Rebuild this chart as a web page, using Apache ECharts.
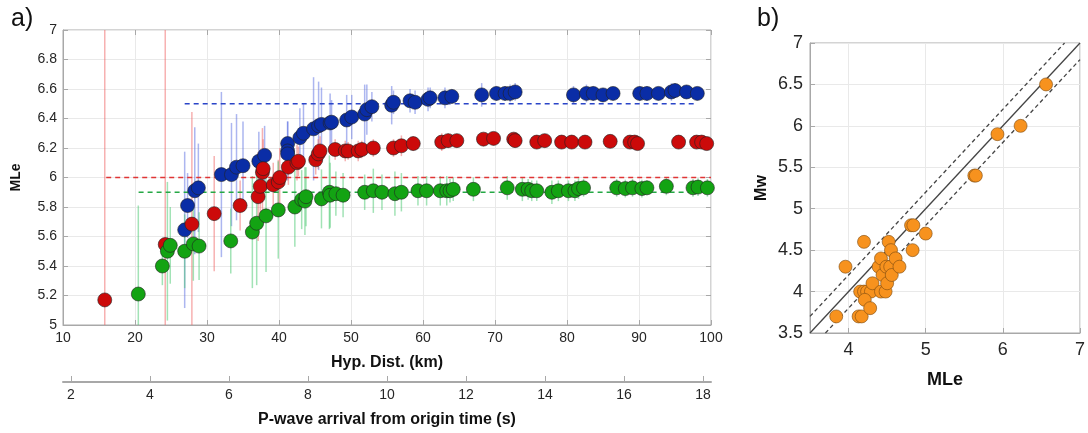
<!DOCTYPE html>
<html>
<head>
<meta charset="utf-8">
<script src="https://cdn.jsdelivr.net/npm/echarts@6/dist/echarts.min.js"></script>
<style>
html,body{margin:0;padding:0;background:#fff;}
#chart{width:1088px;height:433px;}
</style>
</head>
<body>
<div id="chart"></div>
<script>
// ---- Panel a) data: hypocentral distance (km), MLe, half error ----
const blueX = [26.9,27.3,28.3,28.8,32.0,33.4,34.1,35.0,37.2,38.0,41.2,41.2,41.2,42.9,43.4,44.8,45.5,45.9,47.1,47.3,49.4,50.1,51.9,52.2,52.9,55.65,55.9,58.2,58.9,60.7,61.0,63.05,64.0,68.15,70.2,71.4,72.1,72.8,80.9,82.7,83.65,85.0,86.4,90.1,91.1,92.7,94.5,95.0,96.6,98.1];
const blueY = [5.645,5.81,5.91,5.93,6.02,6.02,6.07,6.08,6.11,6.15,6.23,6.18,6.16,6.27,6.30,6.33,6.35,6.36,6.37,6.375,6.39,6.41,6.43,6.46,6.48,6.49,6.51,6.52,6.51,6.53,6.54,6.54,6.55,6.56,6.57,6.57,6.57,6.58,6.56,6.57,6.57,6.56,6.57,6.57,6.57,6.57,6.58,6.59,6.58,6.57];
const blueErr = [0.53,0.22,0.43,0.3,0.56,0.35,0.36,0.3,0.2,0.2,0.15,0.2,0.1,0.2,0.2,0.35,0.3,0.25,0.2,0.15,0.17,0.15,0.2,0.17,0.1,0.13,0.08,0.08,0.08,0.08,0.07,0.07,0.05,0.08,0.05,0.05,0.06,0.06,0.06,0.06,0.05,0.04,0.04,0.05,0.05,0.04,0.06,0.05,0.04,0.04];

const redX = [15.8,24.2,27.9,31.0,34.6,37.1,37.4,37.7,37.8,39.2,39.9,40.1,41.3,42.5,42.7,45.1,45.45,45.7,47.8,49.2,49.6,51.0,51.5,53.1,55.9,57.0,58.65,62.6,63.5,64.7,68.4,69.8,72.6,72.8,75.8,76.9,79.25,80.65,82.5,86.0,88.75,89.4,89.8,95.5,98.0,98.7,99.4];
const redY = [5.17,5.546,5.684,5.755,5.81,5.87,5.94,6.035,6.06,5.95,5.97,6.0,6.07,6.10,6.11,6.12,6.16,6.18,6.19,6.18,6.18,6.18,6.19,6.20,6.20,6.215,6.23,6.24,6.25,6.25,6.26,6.265,6.26,6.25,6.24,6.25,6.24,6.24,6.24,6.245,6.24,6.24,6.23,6.24,6.24,6.24,6.23];
const redErr = [2,2,0.76,0.39,0.17,0.3,0.25,0.3,0.2,0.15,0.15,0.2,0.12,0.12,0.1,0.1,0.1,0.1,0.07,0.07,0.06,0.07,0.06,0.06,0.06,0.07,0.05,0.06,0.05,0.04,0.04,0.04,0.04,0.03,0.04,0.04,0.04,0.03,0.03,0.03,0.03,0.03,0.03,0.03,0.03,0.03,0.03];

const greenX = [20.46,23.8,24.5,24.9,26.9,28.1,28.9,33.3,36.3,36.9,38.2,39.9,42.2,43.15,43.6,43.75,45.9,47.0,47.1,47.9,48.9,51.9,53.1,54.3,56.1,57.0,59.3,60.5,62.4,63.3,63.75,64.2,67.0,71.7,73.8,74.6,75.1,75.8,77.9,78.8,80.2,81.1,81.6,82.3,86.9,88.1,89.1,90.4,91.1,93.8,97.5,98.2,99.5];
const greenY = [5.21,5.40,5.50,5.54,5.50,5.55,5.535,5.57,5.63,5.69,5.74,5.78,5.80,5.85,5.84,5.87,5.855,5.90,5.88,5.89,5.88,5.90,5.91,5.90,5.89,5.90,5.91,5.91,5.91,5.91,5.91,5.92,5.92,5.93,5.92,5.92,5.91,5.91,5.90,5.91,5.91,5.91,5.925,5.93,5.93,5.925,5.93,5.925,5.93,5.94,5.93,5.935,5.93];
const greenErr = [0.6,0.13,0.47,0.26,0.25,0.25,0.23,0.22,0.38,0.42,0.38,0.33,0.27,0.2,0.23,0.2,0.2,0.25,0.22,0.15,0.15,0.12,0.15,0.12,0.15,0.13,0.1,0.1,0.1,0.1,0.08,0.08,0.08,0.08,0.08,0.07,0.07,0.07,0.08,0.07,0.07,0.07,0.07,0.06,0.06,0.06,0.06,0.06,0.05,0.06,0.06,0.06,0.06];

// reference magnitudes (dashed), start/end distance
const blueRef = [6.5, 26.9, 97.8];
const redRef = [6.0, 16.0, 100];
const greenRef = [5.9, 20.5, 100];

// axes
const distTicks = [10,20,30,40,50,60,70,80,90,100];
const timeTicks = [2,4,6,8,10,12,14,16,18];
const timeRange = [1.8, 18.2];

// ---- Panel b) data ----
const mleB = [3.84,3.96,4.20,4.13,4.17,4.15,4.20,4.24,4.29,4.21,4.28,4.31,4.39,4.42,4.44,4.42,4.48,4.49,4.50,4.52,4.55,4.54,4.56,4.61,4.66,4.81,4.84,4.83,5.00,5.63,5.65,5.93,6.23,6.56];
const mwB = [3.7,4.3,4.6,3.7,3.7,4.0,4.0,4.0,4.0,3.9,3.8,4.1,4.3,4.4,4.2,4.0,4.0,4.3,4.1,4.6,4.5,4.3,4.2,4.4,4.3,4.8,4.8,4.5,4.7,5.4,5.4,5.9,6.0,6.5];
const xTicksB = [4,5,6,7];
const bandOffset = 0.2;

// ---- build ----
const FONT = 'Liberation Sans, Arial, Helvetica, sans-serif';
const zip3 = (a,b,c) => a.map((v,i)=>[v,b[i],c[i]]);
const zip2 = (a,b) => a.map((v,i)=>[v,b[i]]);

function errSeries(x,y,e,color){
  return {
    type:'custom', xAxisIndex:0, yAxisIndex:0, z:2,
    data: zip3(x,y,e),
    renderItem: function(params, api){
      const xv = api.value(0), yv = api.value(1), ev = api.value(2);
      const lo = Math.max(5, yv-ev), hi = Math.min(7, yv+ev);
      const p1 = api.coord([xv, lo]), p2 = api.coord([xv, hi]);
      return {type:'line', shape:{x1:p1[0],y1:p1[1],x2:p2[0],y2:p2[1]}, style:{stroke:color, lineWidth:1.5}};
    }
  };
}
function refSeries(ref,color){
  return {type:'line', xAxisIndex:0, yAxisIndex:0, z:3, symbol:'none', silent:true,
    data:[[ref[1],ref[0]],[ref[2],ref[0]]],
    lineStyle:{color:color, width:1.5, type:[5,4]}};
}
function dotSeries(x,y,color){
  return {type:'scatter', xAxisIndex:0, yAxisIndex:0, z:4, symbolSize:14,
    data: zip2(x,y),
    itemStyle:{color:color, borderColor:'#222', borderWidth:0.6, opacity:1}};
}

const axisGray = '#a8a8a8';
const gridGray = '#e9e9e9';
const labelCol = '#262626';

const chart = echarts.init(document.getElementById('chart'), null, {renderer:'canvas'});
chart.setOption({
  backgroundColor:'#fff',
  animation:false,
  title:[
    {text:'a)', left:6, top:2, textStyle:{fontFamily:FONT, fontSize:25, fontWeight:'normal', color:'#111'}},
    {text:'b)', left:752, top:2, textStyle:{fontFamily:FONT, fontSize:25, fontWeight:'normal', color:'#111'}}
  ],
  grid:[
    {left:63, top:30, width:648, height:304, show:true, borderColor:axisGray, borderWidth:1},
    {left:810, top:43, width:277, height:290, show:true, borderColor:axisGray, borderWidth:1}
  ],
  xAxis:[
    {gridIndex:0, type:'value', min:10, max:100, interval:10, position:'bottom',
      name:'Hyp. Dist. (km)', nameLocation:'middle', nameGap:30,
      nameTextStyle:{fontFamily:FONT, fontSize:16, fontWeight:'bold', color:'#111'},
      axisLine:{show:true, lineStyle:{color:axisGray}},
      axisTick:{show:true, inside:true, length:5, lineStyle:{color:axisGray}},
      axisLabel:{fontFamily:FONT, fontSize:14, color:labelCol, margin:6},
      splitLine:{show:true, lineStyle:{color:gridGray}}},
    {gridIndex:0, type:'value', min:timeRange[0], max:timeRange[1], position:'bottom', offset:57,
      name:'P-wave arrival from origin time (s)', nameLocation:'middle', nameGap:30,
      nameTextStyle:{fontFamily:FONT, fontSize:16, fontWeight:'bold', color:'#111'},
      axisLine:{show:true, lineStyle:{color:axisGray, width:2}},
      axisTick:{show:true, inside:true, length:6, customValues:timeTicks, lineStyle:{color:axisGray}},
      axisLabel:{fontFamily:FONT, fontSize:14, color:labelCol, margin:6, customValues:timeTicks},
      splitLine:{show:false}},
    {gridIndex:0, type:'value', min:10, max:100, interval:10, position:'top',
      axisLine:{show:false}, axisTick:{show:true, inside:true, length:5, lineStyle:{color:axisGray}},
      axisLabel:{show:false}, splitLine:{show:false}},
    {gridIndex:1, type:'value', min:3.5, max:7,
      name:'MLe', nameLocation:'middle', nameGap:38,
      nameTextStyle:{fontFamily:FONT, fontSize:18, fontWeight:'bold', color:'#111'},
      axisLine:{show:true, lineStyle:{color:axisGray}},
      axisTick:{show:true, inside:true, length:5, customValues:xTicksB, lineStyle:{color:axisGray}},
      axisLabel:{fontFamily:FONT, fontSize:18, color:labelCol, margin:8, customValues:xTicksB},
      splitLine:{show:true, lineStyle:{color:gridGray}}}
  ],
  yAxis:[
    {gridIndex:0, type:'value', min:5, max:7, interval:0.2,
      name:'MLe', nameLocation:'middle', nameGap:40, nameRotate:90,
      nameTextStyle:{fontFamily:FONT, fontSize:14, fontWeight:'bold', color:'#111'},
      axisLine:{show:true, lineStyle:{color:axisGray}},
      axisTick:{show:true, inside:true, length:5, lineStyle:{color:axisGray}},
      axisLabel:{fontFamily:FONT, fontSize:14, color:labelCol, margin:6},
      splitLine:{show:true, lineStyle:{color:gridGray}}},
    {gridIndex:0, type:'value', min:5, max:7, interval:0.2, position:'right',
      axisLine:{show:false}, axisTick:{show:true, inside:true, length:5, lineStyle:{color:axisGray}},
      axisLabel:{show:false}, splitLine:{show:false}},
    {gridIndex:1, type:'value', min:3.5, max:7, interval:0.5,
      name:'Mw', nameLocation:'middle', nameGap:40, nameRotate:90,
      nameTextStyle:{fontFamily:FONT, fontSize:16, fontWeight:'bold', color:'#111'},
      axisLine:{show:true, lineStyle:{color:axisGray}},
      axisTick:{show:true, inside:true, length:5, lineStyle:{color:axisGray}},
      axisLabel:{fontFamily:FONT, fontSize:18, color:labelCol, margin:7},
      splitLine:{show:true, lineStyle:{color:gridGray}}}
  ],
  series:[
    errSeries(blueX, blueY, blueErr, 'rgba(90,110,225,0.5)'),
    errSeries(redX, redY, redErr, 'rgba(240,100,100,0.5)'),
    errSeries(greenX, greenY, greenErr, 'rgba(70,200,110,0.5)'),
    refSeries(blueRef, '#2a45c8'),
    refSeries(redRef, '#e03535'),
    refSeries(greenRef, '#25a845'),
    dotSeries(blueX, blueY, '#0a2da6'),
    dotSeries(redX, redY, '#cc0a0a'),
    dotSeries(greenX, greenY, '#13a313'),
    {type:'line', xAxisIndex:3, yAxisIndex:2, symbol:'none', silent:true, z:2,
      data:[[3.5,3.5],[7,7]], lineStyle:{color:'#444', width:1.3}},
    {type:'line', xAxisIndex:3, yAxisIndex:2, symbol:'none', silent:true, z:2,
      data:[[3.5,3.5+bandOffset],[7-bandOffset,7]], lineStyle:{color:'#444', width:1.3, type:[4,3]}},
    {type:'line', xAxisIndex:3, yAxisIndex:2, symbol:'none', silent:true, z:2,
      data:[[3.5+bandOffset,3.5],[7,7-bandOffset]], lineStyle:{color:'#444', width:1.3, type:[4,3]}},
    {type:'scatter', xAxisIndex:3, yAxisIndex:2, z:4, symbolSize:13,
      data: zip2(mleB, mwB),
      itemStyle:{color:'#f7921e', borderColor:'#7a4a10', borderWidth:0.6, opacity:1}}
  ]
});
</script>
</body>
</html>
